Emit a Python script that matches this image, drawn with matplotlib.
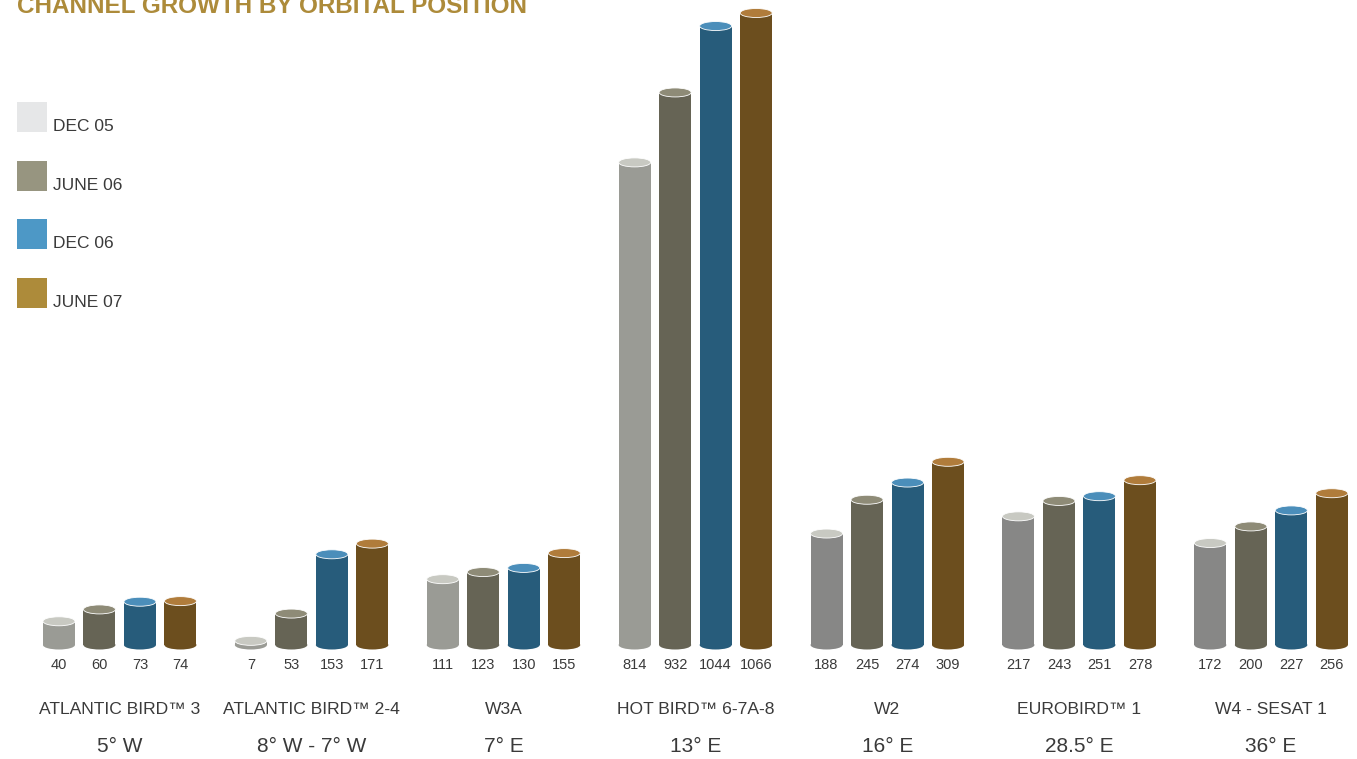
import matplotlib.pyplot as plt
from matplotlib.patches import Rectangle, Ellipse
import numpy as np

satellites = ['ATLANTIC BIRD™ 3', 'ATLANTIC BIRD™ 2-4', 'W3A', 'HOT BIRD™ 6-7A-8',
              'W2', 'EUROBIRD™ 1', 'W4 - SESAT 1']
positions = ['5° W', '8° W - 7° W', '7° E', '13° E', '16° E', '28.5° E', '36° E']
periods = ['DEC 05', 'JUNE 06', 'DEC 06', 'JUNE 07']

dec05 = [40, 7, 111, 814, 188, 217, 172]
june06 = [60, 53, 123, 932, 245, 243, 200]
dec06 = [73, 153, 130, 1044, 274, 251, 227]
june07 = [74, 171, 155, 1066, 309, 278, 256]
series = [dec05, june06, dec06, june07]

# cylinder colours: body, top
body_cols = ['#9a9b95', '#666455', '#275c7b', '#6c4e1e']
top_cols = ['#c8c9c2', '#8e8b77', '#4b8eba', '#b07c3b']
legend_cols = ['#e6e7e8', '#979580', '#4d98c6', '#ad8b3a']
text_col = '#3a3a3a'

plt.rcParams['font.family'] = ['Liberation Sans', 'DejaVu Sans']

W, H = 1357, 759
fig = plt.figure(figsize=(W / 100, H / 100), dpi=100)

# bars axes: bottom of bars at y=645px, 1066 reaches ~13px
bottom = (H - 645) / H
height = 632 / H
ax = fig.add_axes([0, bottom, 1, height])
gap = 191.9   # px between group centres
x0 = 119.7    # px of first group centre
ax.set_xlim(-x0 / gap, (W - x0) / gap)
ax.set_ylim(0, 1066)
ax.axis('off')

bar_w = 32 / gap
step = 40.5 / gap
ell_h = 9 * 1066 / 632  # ellipse height in data units (~9px)

x = np.arange(len(satellites))
for k, vals in enumerate(series):
    for i, v in enumerate(vals):
        xc = x[i] + (k - 1.5) * step
        body = body_cols[k]
        if k == 0 and i >= 4:
            body = '#878786'
        ax.add_patch(Ellipse((xc, 0), bar_w, ell_h, facecolor=body,
                             edgecolor='none', clip_on=False, zorder=2))
        ax.add_patch(Rectangle((xc - bar_w / 2, 0), bar_w, v, facecolor=body,
                               edgecolor='none', clip_on=False, zorder=2))
        ax.add_patch(Ellipse((xc, v), bar_w, ell_h, facecolor=top_cols[k],
                             edgecolor='white', linewidth=0.6, clip_on=False, zorder=3))
        ax.annotate(str(v), xy=(xc, 0), xytext=(0, -14.5), textcoords='offset points',
                    ha='center', va='center', fontsize=10.5, color=text_col,
                    annotation_clip=False)

trans = ax.get_xaxis_transform()
for i in range(len(satellites)):
    ax.text(x[i], -(710 - 645) / 632, satellites[i], transform=trans, ha='center',
            va='center', fontsize=12.6, color=text_col, clip_on=False)
    ax.text(x[i], -(746 - 645) / 632, positions[i], transform=trans, ha='center',
            va='center', fontsize=15, color=text_col, clip_on=False)

# legend
for k, lab in enumerate(periods):
    top_px = 102 + k * 58.7
    fig.patches.append(Rectangle((17 / W, 1 - (top_px + 30) / H), 30 / W, 30 / H,
                                 transform=fig.transFigure, facecolor=legend_cols[k],
                                 edgecolor='none'))
    fig.text(53 / W, 1 - (top_px + 29) / H, lab, fontsize=12.5, color=text_col,
             ha='left', va='baseline')

# title (partly cut off at the top)
fig.text(17 / W, 1 - 13 / H, 'CHANNEL GROWTH BY ORBITAL POSITION',
         family=['Liberation Sans Narrow', 'Liberation Sans', 'DejaVu Sans'],
         fontweight='bold', fontsize=17.5, color='#ad8b3a', ha='left', va='baseline')

fig.savefig('out.png', dpi=100)
